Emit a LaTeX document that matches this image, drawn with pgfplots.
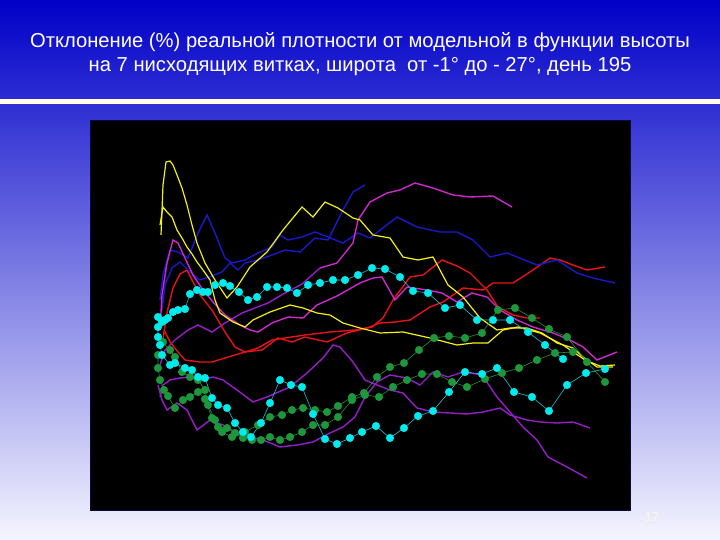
\documentclass[border=0pt]{standalone}
\usepackage{pgfplots}
\pgfplotsset{compat=1.18}
\usepackage{fontspec}
\setmainfont{Liberation Sans}
\definecolor{bgtop}{RGB}{0,0,200}
\definecolor{bgbot}{RGB}{245,245,255}
\definecolor{cream}{RGB}{255,252,235}
\definecolor{ylw}{RGB}{245,240,20}
\definecolor{blu}{RGB}{25,25,200}
\definecolor{mag}{RGB}{205,40,205}
\definecolor{vio}{RGB}{150,30,200}
\definecolor{rd}{RGB}{230,20,20}
\definecolor{cyn}{RGB}{0,235,235}
\definecolor{cynl}{RGB}{40,190,210}
\definecolor{grn}{RGB}{30,150,60}
\pgfplotsset{
  ln/.style={line width=1.4pt},
  mk/.style={line width=0.6pt, mark=*, mark size=3.7pt},
}
\begin{document}
\begin{tikzpicture}[x=1pt,y=1pt]
\shade[top color=bgtop, bottom color=bgbot] (0,0) rectangle (720,540);
\fill[cream] (0,436) rectangle (720,441);
\node[text=white, font=\fontsize{20.2}{24}\selectfont, anchor=base] at (360,492)
  {Отклонение (\%) реальной плотности от модельной в функции высоты};
\node[text=white, font=\fontsize{20.2}{24}\selectfont, anchor=base] at (360,468)
  {на 7 нисходящих витках, широта\ \ от -1° до - 27°, день 195};
\node[text={rgb,255:red,250;green,248;blue,225}, font=\fontsize{13}{13}\selectfont] at (652,23) {17};
\begin{axis}[at={(90pt,30pt)}, anchor=south west, scale only axis,
  width=540pt, height=390pt, xmin=90, xmax=630, ymin=120, ymax=510, y dir=reverse,
  axis background/.style={fill=black}, ticks=none,
  axis line style={draw={rgb,255:red,10;green,10;blue,60}, line width=0.8pt}]
% violet
\addplot[ln, vio] coordinates {(160,397)(163,385)(170,380)(180,378)(190,377)(200,380)(213,377)(223,380)(237,390)(253,402)(267,397)(290,387)(307,373)(323,358)(333,345)(340,347)(353,362)(365,380)(377,385)(390,390)(403,393)(417,408)(433,412)(450,413)(467,414)(483,412)(500,408)(510,415)(527,420)(540,422)(557,423)(573,422)(590,428)};
\addplot[ln, vio] coordinates {(158,385)(162,400)(167,410)(177,403)(187,410)(197,430)(210,420)(223,425)(237,433)(250,437)(263,440)(280,447)(297,445)(313,442)(330,433)(343,427)(355,417)(365,397)(377,382)(390,375)(407,378)(420,385)(433,372)(448,377)(463,372)(482,375)(497,397)(510,412)(523,427)(537,440)(548,457)(567,467)(587,478)};
\addplot[ln, vio] coordinates {(160,365)(165,350)(175,340)(188,330)(198,325)(212,332)(225,323)(242,313)(255,308)(268,303)(285,293)(302,284)(320,268)};
% red
\addplot[ln, rd] coordinates {(162,345)(167,313)(173,288)(180,274)(187,270)(192,280)(200,295)(212,310)(225,332)(235,347)(245,352)(258,348)(272,340)(285,338)(305,335)(330,332)(355,330)(372,327)(383,318)(393,300)(410,277)(423,275)(442,260)(457,266)(470,273)(487,290)(498,307)(513,315)(527,318)(540,318)};
\addplot[ln, rd] coordinates {(164,330)(170,342)(178,352)(185,360)(200,362)(212,362)(225,358)(245,352)(262,350)(278,338)(292,342)(305,337)(327,342)(347,333)(367,328)(380,323)(395,322)(410,320)(430,307)(443,302)(463,288)(483,290)(493,283)(513,283)(533,270)(550,258)(560,260)(573,265)(587,270)(605,267)};
% blue
\addplot[ln, blu] coordinates {(160,300)(163,275)(170,250)(178,252)(188,258)(198,233)(207,215)(215,233)(225,258)(232,263)(245,260)(258,253)(272,247)(280,235)(288,240)(302,237)(315,232)(328,237)(343,243)(358,233)(370,238)(397,217)(417,227)(440,232)(457,232)(473,240)(490,257)(507,253)(537,265)(557,260)(577,273)(593,278)(615,283)};
\addplot[ln, blu] coordinates {(162,310)(165,285)(172,268)(180,262)(190,272)(200,280)(212,276)(222,272)(230,263)(238,270)(245,263)(258,260)(272,255)(285,250)(300,252)(315,238)(328,240)(343,210)(353,192)(365,185)};
% magenta
\addplot[ln, mag] coordinates {(320,268)(337,263)(353,243)(358,220)(370,202)(387,193)(400,190)(415,183)(433,188)(453,195)(470,197)(493,196)(512,207)};
\addplot[ln, mag] coordinates {(160,330)(162,295)(167,263)(173,240)(178,243)(185,258)(193,275)(203,290)(213,302)(225,315)(240,325)(250,330)(258,332)(272,323)(288,317)(303,318)(317,305)(337,296)(360,283)(373,278)(382,277)(395,300)(407,287)(427,290)(442,293)(457,302)(472,293)(487,297)(500,310)(517,320)(533,327)(553,333)(570,340)(583,347)(597,360)(607,356)(617,352)};
% yellow
\addplot[line width=1.2pt, ylw] coordinates {(161,235)(163,185)(166,162)(170,161)(173,165)(177,175)(182,188)(187,205)(192,225)(197,243)(205,263)(215,280)(227,298)(237,287)(250,267)(267,252)(283,230)(302,207)(313,217)(325,202)(338,208)(353,218)(360,220)(373,235)(390,238)(403,257)(418,260)(433,257)(448,285)(463,297)(480,318)(497,330)(510,328)(527,328)(542,333)(557,343)(573,348)(583,357)(597,367)(613,367)};
\addplot[line width=1.2pt, ylw] coordinates {(160,225)(163,207)(167,212)(172,217)(177,230)(182,238)(187,247)(192,254)(197,262)(203,270)(210,280)(215,300)(220,313)(233,322)(245,327)(253,320)(270,312)(290,305)(303,308)(317,313)(330,315)(343,323)(360,328)(380,333)(403,332)(430,338)(457,345)(473,343)(488,343)(503,330)(518,327)(540,333)(563,345)(585,360)(600,366)(615,365)};
% green with marks
\addplot[mk, grn, mark options={fill=grn, draw=grn}] coordinates {(163,342)(170,350)(175,357)(182,372)(190,377)(198,380)(205,390)(208,405)(215,420)(222,432)(232,437)(245,432)(258,425)(270,417)(282,415)(292,410)(303,408)(315,410)(327,412)(338,406)(352,397)(364,393)(377,377)(390,367)(404,363)(419,350)(434,338)(449,336)(465,338)(482,333)(498,310)(515,308)(532,318)(549,329)(567,337)(587,362)(605,382)};
\addplot[mk, grn, mark options={fill=grn, draw=grn}] coordinates {(158,355)(158,368)(160,380)(164,390)(168,396)(175,408)(183,400)(190,397)(198,392)(205,399)(212,418)(218,427)(227,428)(235,433)(243,438)(252,440)(261,440)(270,437)(280,440)(290,437)(302,432)(313,425)(325,425)(338,417)(352,400)(365,395)(379,397)(393,387)(407,380)(422,374)(437,374)(452,382)(467,387)(485,379)(502,373)(519,368)(537,360)(555,353)(573,352)};
% cyan with marks
\addplot[mk, cynl, mark options={fill=cyn, draw=cyn}] coordinates {(158,317)(162,322)(165,320)(168,318)(173,312)(178,310)(185,309)(190,294)(197,290)(203,292)(208,292)(215,285)(223,283)(230,286)(239,292)(248,300)(257,297)(267,287)(277,287)(287,288)(297,293)(308,285)(320,283)(333,280)(345,280)(358,275)(372,268)(385,269)(400,277)(413,291)(428,293)(445,308)(460,305)(477,320)(493,320)(510,320)(528,332)(545,345)(563,359)};
\addplot[mk, cynl, mark options={fill=cyn, draw=cyn}] coordinates {(158,327)(158,337)(160,345)(162,355)(170,365)(175,363)(185,368)(192,370)(198,377)(205,378)(212,398)(218,405)(227,408)(235,423)(243,432)(251,437)(261,423)(270,403)(280,380)(291,385)(302,387)(313,414)(325,439)(337,444)(350,438)(362,432)(376,426)(390,438)(404,428)(418,416)(433,411)(449,392)(465,372)(482,374)(497,368)(514,392)(532,397)(549,411)(567,385)(586,373)(605,369)};
\end{axis}
\end{tikzpicture}
\end{document}
